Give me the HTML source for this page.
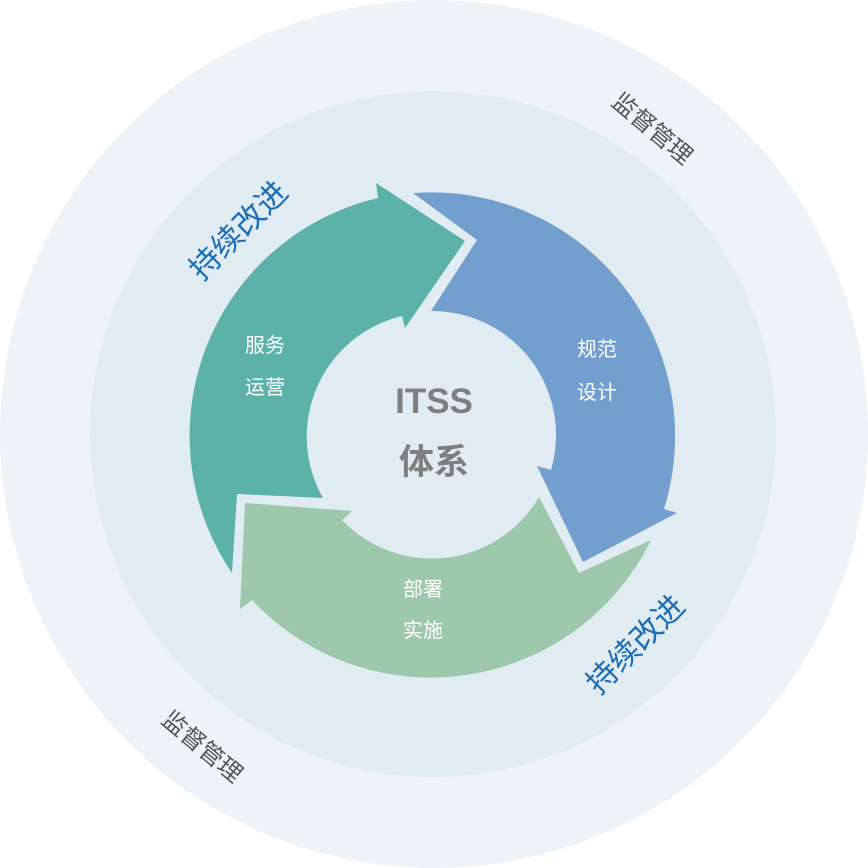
<!DOCTYPE html>
<html><head><meta charset="utf-8"><style>
html,body{margin:0;padding:0;background:#fff}
svg{display:block}
text{font-family:"Liberation Sans","Noto Sans CJK SC",sans-serif}
</style></head><body>
<svg width="868" height="868" viewBox="0 0 868 868" xmlns="http://www.w3.org/2000/svg">
<rect width="868" height="868" fill="#fff"/>
<circle cx="434" cy="434" r="434" fill="#eef3f8"/>
<circle cx="433" cy="434" r="343" fill="#e1ebf2"/>
<path d="M323,498 L237,494 L232,573 A244,244 0 0 1 378,198 L376,183 L465,241 L405,328 L402,316 A124,124 0 0 0 323,498 Z" fill="#5cb2a8"/>
<path d="M413,193 L477,240 L431,311 A124,124 0 0 1 551,470 L537,466 L583,562 L677,513 L664,509 A244,244 0 0 0 413,193 Z" fill="#739fcf"/>
<path d="M651,540 L579,573 L539,497 A124,124 0 0 1 342,520 L352,511 L245,503 L240,609 L252,600 A245,245 0 0 0 651,540 Z" fill="#9dc8ab"/>
<g font-size="20" fill="#fff" text-anchor="middle">
<text x="265" y="352">服务</text><text x="265" y="394">运营</text>
<text x="597" y="356">规范</text><text x="597" y="399">设计</text>
<text x="423" y="596">部署</text><text x="423" y="637">实施</text>
</g>
<g font-size="35" font-weight="bold" fill="#7f7f7f" text-anchor="middle">
<text x="434" y="413">ITSS</text><text x="434" y="474">体系</text>
</g>
<g font-size="31" fill="#1a6fb5" text-anchor="middle">
<text transform="translate(246,238) rotate(-45)">持续改进</text>
<text transform="translate(643,652) rotate(-45)">持续改进</text>
</g>
<g font-size="24" fill="#555" text-anchor="middle">
<text transform="translate(647,135) rotate(40)">监督管理</text>
<text transform="translate(197,753) rotate(40)">监督管理</text>
</g>
</svg>
</body></html>
